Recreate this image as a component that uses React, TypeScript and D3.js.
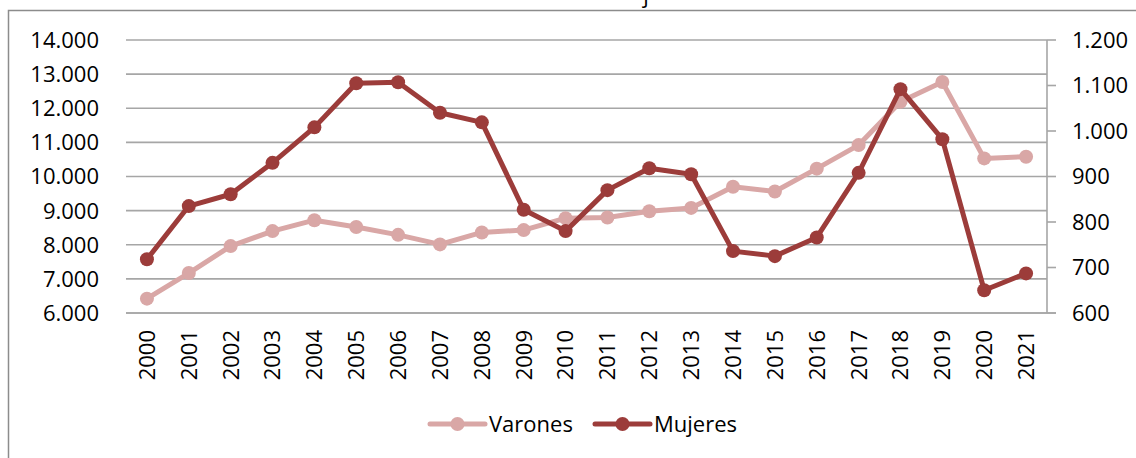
import React, { useEffect, useRef } from "react";
import * as d3 from "d3";

const years = ["2000","2001","2002","2003","2004","2005","2006","2007","2008","2009","2010","2011","2012","2013","2014","2015","2016","2017","2018","2019","2020","2021"];
const varones = [6420,7170,7960,8400,8720,8520,8290,8010,8360,8430,8780,8800,8980,9080,9700,9560,10230,10920,12190,12770,10530,10580];
const mujeres = [718,835,861,930,1008,1105,1107,1040,1019,827,780,870,918,905,736,725,766,908,1092,982,650,687];
const leftTicks = [6000,7000,8000,9000,10000,11000,12000,13000,14000];
const rightTicks = [600,700,800,900,1000,1100,1200];

const C_VAR = "#d9a7a6";
const C_MUJ = "#9c3c3a";
const FONT = "'Open Sans', Lato, sans-serif";

const fmt = (v: number) => d3.format(",")(v).replace(/,/g, ".");

export default function App() {
  const ref = useRef<SVGSVGElement>(null);
  useEffect(() => {
    const svg = d3.select(ref.current);
    svg.selectAll("*").remove();
    const L = 126, R = 1047, T = 40, B = 313;
    const x = d3.scaleBand().domain(years).range([L, R]);
    const cx = (d: string) => (x(d) as number) + x.bandwidth() / 2;
    const yl = d3.scaleLinear().domain([6000, 14000]).range([B, T]);
    const yr = d3.scaleLinear().domain([600, 1200]).range([B, T]);

    // outer border
    svg.append("rect").attr("x", 8.5).attr("y", 10.5).attr("width", 1140).attr("height", 460)
      .attr("fill", "none").attr("stroke", "#8c8c8c").attr("stroke-width", 1.5);
    // title fragment (clipped at top)
    svg.append("text").attr("x", 646).attr("y", 3).attr("text-anchor", "middle")
      .attr("font-family", FONT).attr("font-size", 22).attr("fill", "#000").text("j");

    // gridlines
    svg.append("g").selectAll("line").data(leftTicks).join("line")
      .attr("x1", L).attr("x2", R).attr("y1", d => yl(d)).attr("y2", d => yl(d))
      .attr("stroke", "#a6a6a6").attr("stroke-width", 1.6);
    svg.append("line").attr("x1", L).attr("x2", R + 9).attr("y1", B).attr("y2", B)
      .attr("stroke", "#a6a6a6").attr("stroke-width", 1.6);
    svg.append("line").attr("x1", R).attr("x2", R).attr("y1", T).attr("y2", B)
      .attr("stroke", "#a6a6a6").attr("stroke-width", 1.6);
    svg.append("g").selectAll("line").data(rightTicks).join("line")
      .attr("x1", R).attr("x2", R + 9).attr("y1", d => yr(d)).attr("y2", d => yr(d))
      .attr("stroke", "#a6a6a6").attr("stroke-width", 1.6);

    const FS = 22;
    svg.append("g").selectAll("text").data(leftTicks).join("text")
      .attr("x", 99).attr("y", d => yl(d)).attr("dy", "0.36em").attr("text-anchor", "end")
      .attr("font-family", FONT).attr("font-size", FS).attr("fill", "#000").text(d => fmt(d));
    svg.append("g").selectAll("text").data(rightTicks).join("text")
      .attr("x", 1072).attr("y", d => yr(d)).attr("dy", "0.36em").attr("text-anchor", "start")
      .attr("font-family", FONT).attr("font-size", FS).attr("fill", "#000").text(d => fmt(d));
    svg.append("g").selectAll("text").data(years).join("text")
      .attr("transform", d => `translate(${cx(d)},${B + 17}) rotate(-90)`)
      .attr("dy", "0.36em").attr("text-anchor", "end")
      .attr("font-family", FONT).attr("font-size", FS).attr("fill", "#000").text(d => d);

    const drawSeries = (vals: number[], y: d3.ScaleLinear<number, number>, color: string) => {
      const line = d3.line<number>().x((_, i) => cx(years[i])).y(d => y(d));
      svg.append("path").attr("d", line(vals) as string).attr("fill", "none")
        .attr("stroke", color).attr("stroke-width", 5).attr("stroke-linejoin", "round");
      svg.append("g").selectAll("circle").data(vals).join("circle")
        .attr("cx", (_, i) => cx(years[i])).attr("cy", d => y(d)).attr("r", 7).attr("fill", color);
    };
    drawSeries(varones, yl, C_VAR);
    drawSeries(mujeres, yr, C_MUJ);

    const leg = [
      { name: "Varones", color: C_VAR, x0: 430 },
      { name: "Mujeres", color: C_MUJ, x0: 595 },
    ];
    const ly = 424;
    leg.forEach(l => {
      svg.append("line").attr("x1", l.x0).attr("x2", l.x0 + 55).attr("y1", ly).attr("y2", ly)
        .attr("stroke", l.color).attr("stroke-width", 5).attr("stroke-linecap", "round");
      svg.append("circle").attr("cx", l.x0 + 27.5).attr("cy", ly).attr("r", 7).attr("fill", l.color);
      svg.append("text").attr("x", l.x0 + 59).attr("y", ly).attr("dy", "0.36em")
        .attr("font-family", FONT).attr("font-size", FS).attr("fill", "#000").text(l.name);
    });
  }, []);
  return (
    <svg ref={ref} width={1136} height={458}
      style={{ position: "absolute", left: 0, top: 0, background: "#fff" }} />
  );
}
